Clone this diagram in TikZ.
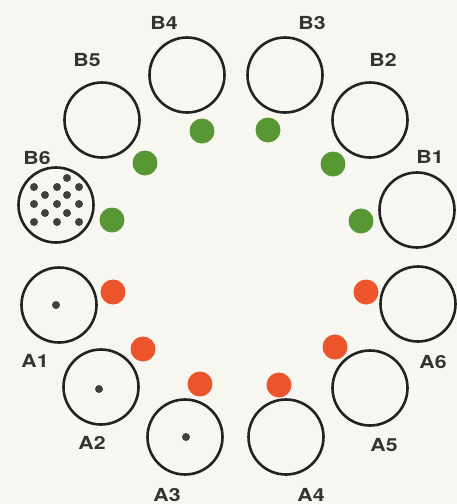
\documentclass[tikz,border=0pt]{standalone}
\usepackage{fontspec}
\usepackage{tikz}
\newfontfamily\tagfont[FakeStretch=1.18]{TeX Gyre Heros}
\definecolor{paper}{RGB}{248,246,241}
\definecolor{ink}{RGB}{34,34,34}
\definecolor{pegGreen}{RGB}{88,152,52}
\definecolor{pegRed}{RGB}{236,84,44}
\tikzset{
socket/.style={circle,draw=ink,line width=2.6pt,minimum size=75pt,inner sep=0pt},
gpeg/.style={circle,fill=pegGreen,minimum size=25pt,inner sep=0pt},
rpeg/.style={circle,fill=pegRed,minimum size=25pt,inner sep=0pt},
pin/.style={circle,fill=black!75,minimum size=8pt,inner sep=0pt},
tag/.style={inner sep=0pt,text=black!80,font=\tagfont\bfseries\fontsize{18}{18}\selectfont}
}
\begin{document}
\begin{tikzpicture}[x=1pt,y=-1pt]
\fill[paper] (0,0) rectangle (457,504);
\useasboundingbox (0,0) rectangle (457,504);
\node[socket] (B1) at (417,210) {};
\node[socket] (B2) at (370,120) {};
\node[socket] (B3) at (285,75) {};
\node[socket] (B4) at (187,75) {};
\node[socket] (B5) at (102,120) {};
\node[socket] (B6) at (56,205) {};
\node[socket] (A1) at (59,305) {};
\node[socket] (A2) at (101,387) {};
\node[socket] (A3) at (185,437) {};
\node[socket] (A4) at (286,437) {};
\node[socket] (A5) at (370,388) {};
\node[socket] (A6) at (418,304) {};
\node[gpeg] (g1) at (361,221) {};
\node[gpeg] (g2) at (333,164) {};
\node[gpeg] (g3) at (268,130) {};
\node[gpeg] (g4) at (202,131) {};
\node[gpeg] (g5) at (145,163) {};
\node[gpeg] (g6) at (112,220) {};
\node[rpeg] (r1) at (113,292) {};
\node[rpeg] (r2) at (143,349) {};
\node[rpeg] (r3) at (200,384) {};
\node[rpeg] (r4) at (279,385) {};
\node[rpeg] (r5) at (335,347) {};
\node[rpeg] (r6) at (366,292) {};
\node[pin] (pA1) at (56,305) {};
\node[pin] (pA2) at (99,389) {};
\node[pin] (pA3) at (186,437) {};
\foreach \px/\py [count=\k] in {67/178,34/187,57/187,79/187,45/195,67/195,34/204,57/204,79/204,45/213,67/213,34/222,57/222,79/222}
  \node[pin] (pB\k) at (\px,\py) {};
\node[tag] (lB1) at (430,157) {B1};
\node[tag] (lB2) at (383,60) {B2};
\node[tag] (lB3) at (312,23) {B3};
\node[tag] (lB4) at (164,23) {B4};
\node[tag] (lB5) at (87,60) {B5};
\node[tag] (lB6) at (37,158) {B6};
\node[tag] (lA1) at (35,361) {A1};
\node[tag] (lA2) at (92,443) {A2};
\node[tag] (lA3) at (167,495) {A3};
\node[tag] (lA4) at (311,495) {A4};
\node[tag] (lA5) at (384,445) {A5};
\node[tag] (lA6) at (433,362) {A6};
\end{tikzpicture}
\end{document}
